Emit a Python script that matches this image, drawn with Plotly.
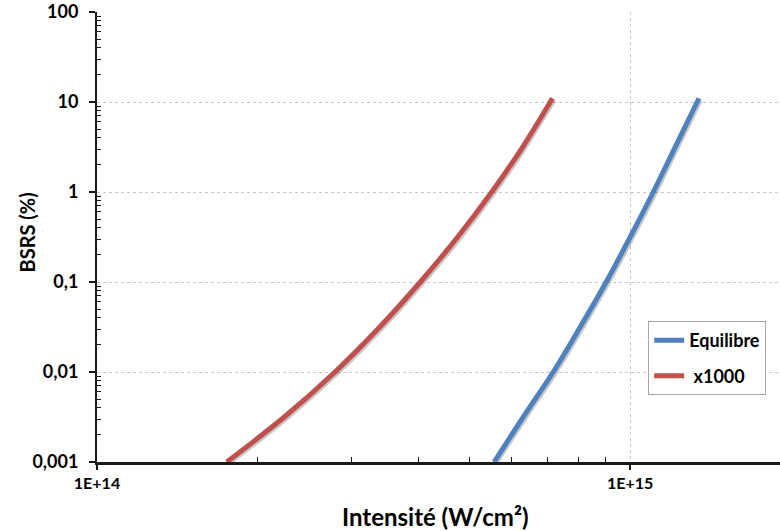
import plotly.graph_objects as go

# Data (intensity in W/cm², BSRS in %)
eq_intensity = [5.557e14, 6.299e14, 7.172e14, 8.058e14, 9.016e14, 1.000e15, 1.105e15, 1.2145e15, 1.346e15]
eq_bsrs = [0.001, 0.00316, 0.01, 0.0316, 0.1, 0.316, 1, 3.16, 11]

x1000_intensity = [1.751e14, 2.245e14, 2.795e14, 3.391e14, 4.04e14, 4.747e14, 5.50e14, 6.285e14, 7.15e14]
x1000_bsrs = [0.001, 0.00316, 0.01, 0.0316, 0.1, 0.316, 1, 3.16, 11]

y_tickvals = [0.001, 0.01, 0.1, 1, 10, 100]
y_ticktext = ["0,001", "0,01", "0,1", "1", "10", "100"]
x_tickvals = [1e14, 1e15]
x_ticktext = ["1E+14", "1E+15"]

FONT = "Lato, 'Open Sans', sans-serif"
AXIS = "#1a1a1a"

# soft drop shadow offsets (styling only)
SH_X, SH_Y = 1.006, 0.955

fig = go.Figure()
for xs, ys in [(eq_intensity, eq_bsrs), (x1000_intensity, x1000_bsrs)]:
    fig.add_trace(go.Scatter(x=[v * SH_X for v in xs], y=[v * SH_Y for v in ys], mode="lines",
                             line=dict(color="rgba(0,0,0,0.22)", width=5, shape="spline", smoothing=1),
                             showlegend=False, hoverinfo="skip"))

fig.add_trace(go.Scatter(x=eq_intensity, y=eq_bsrs, mode="lines", name="Equilibre",
                         line=dict(color="#4F81BD", width=5, shape="spline", smoothing=1),
                         legendgroup="a"))
fig.add_trace(go.Scatter(x=x1000_intensity, y=x1000_bsrs, mode="lines", name=" x1000",
                         line=dict(color="#C0504D", width=5, shape="spline", smoothing=1),
                         legendgroup="b"))

fig.update_layout(
    width=780, height=531,
    margin=dict(l=97, r=0, t=12, b=69),
    paper_bgcolor="white", plot_bgcolor="white",
    font=dict(family=FONT, color="#000000"),
    showlegend=True,
    legend=dict(x=0.807, y=0.313, xanchor="left", yanchor="top",
                bgcolor="white", bordercolor="#a6a6a6", borderwidth=1,
                font=dict(size=18, family=FONT, color="#000000", weight="bold"),
                traceorder="grouped", tracegroupgap=9, itemwidth=30),
    annotations=[
        dict(text="BSRS (%)", x=-0.1025, y=0.51, xref="paper", yref="paper",
             xanchor="center", yanchor="middle", textangle=-90, showarrow=False,
             font=dict(size=20, family=FONT, weight="bold", color="#000000")),
        dict(text="Intensité (W/cm²)", x=0.4949, y=-0.12, xref="paper", yref="paper",
             xanchor="center", yanchor="middle", showarrow=False,
             font=dict(size=24, family=FONT, weight="bold", color="#000000")),
    ],
)

fig.update_xaxes(
    type="log", range=[14, 15.281], automargin=False,
    tickvals=x_tickvals, ticktext=x_ticktext,
    tickfont=dict(size=16, family=FONT, weight="bold"),
    ticks="outside", ticklen=5, tickwidth=1.5, tickcolor=AXIS,
    showline=True, linecolor=AXIS, linewidth=2.5,
    showgrid=True, gridcolor="#c8c8c8", griddash="dot", gridwidth=1,
    minor=dict(tickvals=[2e14, 3e14, 4e14, 5e14, 6e14, 7e14, 8e14, 9e14],
               ticks="inside", ticklen=5, tickwidth=1.2, tickcolor=AXIS, showgrid=False),
    zeroline=False, ticklabeloverflow="allow",
)

y_minor = [m * d for d in [0.001, 0.01, 0.1, 1, 10] for m in range(2, 10)]
fig.update_yaxes(
    type="log", range=[-3, 2], automargin=False,
    tickvals=y_tickvals, ticktext=y_ticktext,
    tickfont=dict(size=18, family=FONT, weight="bold"),
    ticks="outside", ticklen=6, tickwidth=1.5, tickcolor=AXIS, ticklabelstandoff=7,
    showline=True, linecolor=AXIS, linewidth=2,
    showgrid=True, gridcolor="#c8c8c8", griddash="dot", gridwidth=1,
    minor=dict(tickvals=y_minor, ticks="inside", ticklen=4, tickwidth=1.2, tickcolor=AXIS, showgrid=False),
    zeroline=False, ticklabeloverflow="allow",
)

# remove the default page margin so the figure fills the window exactly
fig.write_html("out.html", config={"displayModeBar": False},
               post_script="document.body.style.margin='0px';")
